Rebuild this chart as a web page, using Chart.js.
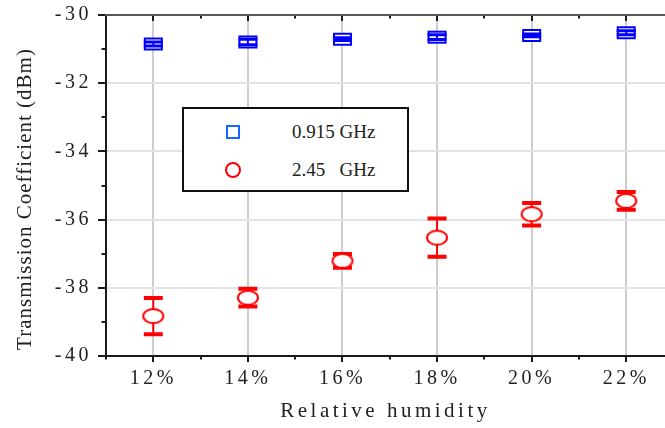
<!DOCTYPE html>
<html lang="en">
<head>
<meta charset="UTF-8">
<title>Transmission coefficient vs relative humidity</title>
<style>
  body { margin: 0; background: #fff; }
  .wrap { position: relative; width: 665px; height: 428px; }
  .legend {
    position: absolute; left: 182px; top: 107px;
    width: 223px; height: 81px;
    border: 2px solid #111; background: #fff;
    font-family: 'Liberation Serif', 'Times New Roman', serif;
    font-size: 19px; color: #222;
  }
  .legend .txt { position: absolute; left: 108px; height: 24px; line-height: 24px; white-space: pre; }
  .legend .sq { position: absolute; left: 42px; top: 16px; width: 14px; height: 14px; box-sizing: border-box; border: 2.5px solid #1466ff; }
  .legend .ci { position: absolute; left: 41px; top: 53px; width: 16px; height: 16px; box-sizing: border-box; border: 2.5px solid #ff0000; border-radius: 50%; }
</style>
</head>
<body>

<div class="wrap">
  <canvas id="chart" width="665" height="428"></canvas>
  <div class="legend" id="legend"></div>
</div>

<script src="https://cdn.jsdelivr.net/npm/chart.js"></script>
<script>
  const humidity = [12, 14, 16, 18, 20, 22];
  const humidityLabels = ['12%', '14%', '16%', '18%', '20%', '22%'];
  const seriesNames = ['0.915 GHz', '2.45   GHz'];

  // 0.915 GHz
  const lowBand = [-30.85, -30.79, -30.71, -30.65, -30.60, -30.52];
  const lowBandErr = [0.06, 0.08, 0.04, 0.07, 0.04, 0.06];
  // 2.45 GHz
  const highBand = [-38.83, -38.29, -37.21, -36.53, -35.84, -35.45];
  const highBandErr = [0.53, 0.26, 0.2, 0.56, 0.33, 0.26];

  const yTitle = 'Transmission Coefficient (dBm)';
  const xTitle = 'Relative humidity';

  const serif = "'Liberation Serif', 'Times New Roman', serif";
  Chart.defaults.font.family = serif;
  Chart.defaults.color = '#222';

  function makeMarker(w, h, color, shape) {
    const c = document.createElement('canvas');
    c.width = w + 4;
    c.height = h + 4;
    const g = c.getContext('2d');
    g.lineWidth = 2;
    g.strokeStyle = color;
    g.fillStyle = '#fff';
    g.beginPath();
    if (shape === 'rect') g.rect(2, 2, w, h);
    else g.ellipse(c.width / 2, c.height / 2, w / 2, h / 2, 0, 0, Math.PI * 2);
    g.fill();
    g.stroke();
    return c;
  }

  function toPoints(vals) {
    return vals.map((v, i) => ({ x: humidity[i], y: v }));
  }

  // error bars: red ones go under the markers, blue caps sit on top
  function drawErrors(chart, front) {
    const { ctx, scales: { y } } = chart;
    chart.data.datasets.forEach((ds, i) => {
      if (!!ds.errFront !== front) return;
      const meta = chart.getDatasetMeta(i);
      ctx.save();
      ctx.strokeStyle = ds.errColor;
      meta.data.forEach((pt, j) => {
        const v = ds.data[j].y, e = ds.errors[j];
        const top = y.getPixelForValue(v + e), bot = y.getPixelForValue(v - e);
        ctx.lineWidth = 2;
        ctx.beginPath();
        ctx.moveTo(pt.x, top);
        ctx.lineTo(pt.x, bot);
        ctx.stroke();
        ctx.lineWidth = ds.capWidth;
        ctx.beginPath();
        ctx.moveTo(pt.x - ds.capLen / 2, top);
        ctx.lineTo(pt.x + ds.capLen / 2, top);
        ctx.moveTo(pt.x - ds.capLen / 2, bot);
        ctx.lineTo(pt.x + ds.capLen / 2, bot);
        ctx.stroke();
      });
      ctx.restore();
    });
  }

  const errorBars = {
    id: 'errorBars',
    beforeDatasetsDraw(chart) { drawErrors(chart, false); },
    afterDatasetsDraw(chart) { drawErrors(chart, true); }
  };

  const spacing = {
    id: 'spacing',
    beforeDraw(chart) { chart.ctx.letterSpacing = '3.5px'; }
  };

  const frame = {
    id: 'frame',
    afterDraw(chart) {
      const { ctx, chartArea: a, scales: { x, y } } = chart;
      ctx.save();
      ctx.lineWidth = 2;
      ctx.strokeStyle = '#1a1a1a';
      ctx.beginPath();
      ctx.moveTo(a.left, a.top); ctx.lineTo(a.left, a.bottom + 1);
      ctx.moveTo(a.left - 1, a.bottom); ctx.lineTo(a.right, a.bottom);
      for (let v = 11; v <= 23; v++) {
        const px = Math.round(x.getPixelForValue(v));
        if (px > a.right) break;
        const len = v % 2 === 0 ? 6 : 3.5;
        ctx.moveTo(px, a.bottom); ctx.lineTo(px, a.bottom + len);
        ctx.moveTo(px, a.top); ctx.lineTo(px, a.top + len);
      }
      for (let v = -40; v <= -30; v++) {
        const py = Math.round(y.getPixelForValue(v));
        const len = v % 2 === 0 ? 8 : 4.5;
        ctx.moveTo(a.left - len, py); ctx.lineTo(a.left, py);
      }
      ctx.stroke();
      ctx.strokeStyle = '#555';
      ctx.beginPath();
      ctx.moveTo(a.left - 1, a.top); ctx.lineTo(a.right, a.top);
      ctx.stroke();

      // y axis title
      ctx.letterSpacing = '1px';
      ctx.fillStyle = '#222';
      ctx.font = '21px ' + serif;
      ctx.translate(25, 199);
      ctx.rotate(-Math.PI / 2);
      ctx.textAlign = 'center';
      ctx.textBaseline = 'middle';
      ctx.fillText(yTitle, 0, 0);
      ctx.restore();
    }
  };

  new Chart(document.getElementById('chart'), {
    type: 'scatter',
    data: {
      datasets: [
        {
          label: seriesNames[0],
          data: toPoints(lowBand),
          errors: lowBandErr,
          errColor: '#0000ff',
          errFront: true,
          capLen: 19,
          capWidth: 3,
          pointStyle: makeMarker(17, 11, '#0000ff', 'rect'),
          pointRadius: 10
        },
        {
          label: seriesNames[1],
          data: toPoints(highBand),
          errors: highBandErr,
          errColor: '#ff0000',
          errFront: false,
          capLen: 19,
          capWidth: 4,
          pointStyle: makeMarker(20, 14, '#ff0000', 'ellipse'),
          pointRadius: 10
        }
      ]
    },
    options: {
      responsive: false,
      animation: false,
      layout: { autoPadding: false, padding: { top: 15, right: 0, bottom: 0, left: 0 } },
      plugins: { legend: { display: false }, tooltip: { enabled: false } },
      scales: {
        x: {
          type: 'linear',
          min: 11,
          max: 22.82,
          afterBuildTicks: s => { s.ticks = humidity.map(v => ({ value: v })); },
          afterFit: s => { s.height = 72; s.paddingLeft = 0; s.paddingRight = 0; },
          border: { display: false },
          grid: { color: '#cdcdcd', lineWidth: 2, drawTicks: false },
          ticks: {
            autoSkip: false,
            maxRotation: 0,
            padding: 11,
            color: '#222',
            font: { size: 20 },
            callback: v => humidityLabels[humidity.indexOf(v)]
          },
          title: {
            display: true,
            text: xTitle,
            color: '#222',
            font: { size: 21 },
            padding: { top: 0, bottom: 4 }
          }
        },
        y: {
          min: -40,
          max: -30,
          afterFit: s => { s.width = 106; s.paddingTop = 0; s.paddingBottom = 0; },
          border: { display: false },
          grid: { color: '#e3e3e3', lineWidth: 2, drawTicks: false },
          ticks: {
            stepSize: 2,
            padding: 14,
            color: '#222',
            font: { size: 20 },
            callback: v => String(v)
          }
        }
      }
    },
    plugins: [spacing, errorBars, frame]
  });

  // legend box inside the plot
  const legend = document.getElementById('legend');
  legend.innerHTML =
    '<span class="sq"></span><span class="txt" style="top:11px">' + seriesNames[0] + '</span>' +
    '<span class="ci"></span><span class="txt" style="top:49px">' + seriesNames[1] + '</span>';
</script>

</body>
</html>
